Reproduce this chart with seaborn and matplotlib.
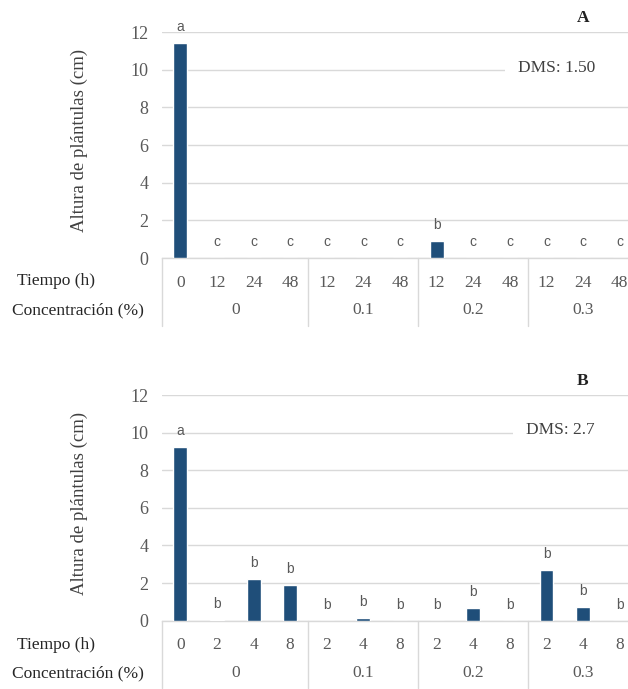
import matplotlib
matplotlib.use("Agg")
import matplotlib.pyplot as plt
import matplotlib.transforms as mtransforms
from matplotlib.lines import Line2D
from matplotlib.patches import Rectangle
import seaborn as sns
import pandas as pd

# ---- Panel A: tiempo de inmersión 0-48 h ----
conc_a = ["0", "0", "0", "0", "0.1", "0.1", "0.1", "0.2", "0.2", "0.2", "0.3", "0.3", "0.3"]
tiempo_a = ["0", "12", "24", "48", "12", "24", "48", "12", "24", "48", "12", "24", "48"]
altura_a = [11.4, 0, 0, 0, 0, 0, 0, 0.9, 0, 0, 0, 0, 0]
letras_a = ["a", "c", "c", "c", "c", "c", "c", "b", "c", "c", "c", "c", "c"]
dms_a = "DMS: 1.50"

# ---- Panel B: tiempo de inmersión 0-8 h ----
conc_b = ["0", "0", "0", "0", "0.1", "0.1", "0.1", "0.2", "0.2", "0.2", "0.3", "0.3", "0.3"]
tiempo_b = ["0", "2", "4", "8", "2", "4", "8", "2", "4", "8", "2", "4", "8"]
altura_b = [9.22, 0.05, 2.2, 1.9, 0, 0.12, 0, 0, 0.66, 0, 2.7, 0.71, 0]
letras_b = ["a", "b", "b", "b", "b", "b", "b", "b", "b", "b", "b", "b", "b"]
dms_b = "DMS: 2.7"

grupos = ["0", "0.1", "0.2", "0.3"]
y_ticks = [0, 2, 4, 6, 8, 10, 12]

BAR = "#1f4e79"
GRID = "#d9d9d9"
TXT = "#404040"
TICK = "#595959"
SERIF = ["Liberation Serif", "DejaVu Serif"]

sns.set_theme(style="white")
plt.rcParams["font.family"] = SERIF

fig = plt.figure(figsize=(6.28, 6.89), dpi=100)


def panel(rect, conc, tiempo, altura, letras, dms, titulo, dms_gap, row_y):
    ax = fig.add_axes(rect)
    df = pd.DataFrame({
        "clave": [f"{c}|{t}|{i}" for i, (c, t) in enumerate(zip(conc, tiempo))],
        "altura": altura,
    })
    orden = list(df["clave"])
    sns.barplot(data=df, x="clave", y="altura", order=orden, color=BAR,
                saturation=1, width=0.38, ax=ax, zorder=3)

    ax.set_ylim(0, 12)
    ax.set_xlim(-0.5, len(altura) - 0.5)
    ax.set_yticks(y_ticks)
    ax.set_yticklabels([str(v) for v in y_ticks], fontsize=13, color=TICK)
    ax.set_xticks(range(len(tiempo)))
    ax.set_xticklabels(tiempo, fontsize=12.5, color=TICK)
    ax.tick_params(axis="both", length=0)
    ax.tick_params(axis="y", pad=10)
    ax.tick_params(axis="x", pad=12)
    ax.set_xlabel("")
    ax.set_ylabel("Altura de plántulas (cm)", fontsize=13.5, color=TXT)
    ax.yaxis.set_label_coords(-0.155, 0.52)

    for s in ["top", "right", "left"]:
        ax.spines[s].set_visible(False)
    ax.spines["bottom"].set_color(GRID)
    ax.spines["bottom"].set_linewidth(1.0)
    ax.yaxis.grid(True, color=GRID, linewidth=1.0, zorder=0)
    ax.set_axisbelow(True)

    # significance letters above each bar
    for i, (v, l) in enumerate(zip(altura, letras)):
        ax.annotate(l, (i, v), xytext=(0, 11.5), textcoords="offset points",
                    ha="center", va="center", fontsize=10, color=TICK,
                    family=["Liberation Sans", "DejaVu Sans"], zorder=4)

    # category table under the axis
    tr = mtransforms.blended_transform_factory(ax.transData, ax.transAxes)
    limites = [-0.5]
    inicio = 0
    for g in grupos:
        n = conc.count(g)
        limites.append(inicio + n - 0.5)
        ax.text(inicio + (n - 1) / 2, -0.23, g, transform=tr, ha="center",
                va="center", fontsize=12.5, color=TICK)
        inicio += n
    for xb in limites:
        ax.add_line(Line2D([xb, xb], [0, -0.30], transform=tr, color=GRID,
                           linewidth=1.0, clip_on=False))

    # DMS box on a white background interrupting the gridline
    ax.add_patch(Rectangle((dms_gap, 0.795), 1.1 - dms_gap, 0.09,
                           transform=ax.transAxes, facecolor="white",
                           edgecolor="none", zorder=2, clip_on=False))
    ax.text(dms_gap + 0.027, 0.843, dms, transform=ax.transAxes, ha="left",
            va="center", fontsize=12.5, color=TXT, zorder=5)
    ax.text(0.884, 1.064, titulo, transform=ax.transAxes, ha="center",
            va="center", fontsize=12.5, fontweight="bold", color="#222222")

    fig.text(17 / 628, row_y[0], "Tiempo (h)", ha="left", va="center",
             fontsize=12.5, color="#262626")
    fig.text(12 / 628, row_y[1], "Concentración (%)", ha="left", va="center",
             fontsize=12.5, color="#262626")
    return ax


panel([0.258, 0.6255, 0.758, 0.328], conc_a, tiempo_a, altura_a, letras_a,
      dms_a, "A", 0.72, (1 - 281 / 689, 1 - 310 / 689))
panel([0.258, 0.0991, 0.758, 0.3276], conc_b, tiempo_b, altura_b, letras_b,
      dms_b, "B", 0.737, (1 - 645 / 689, 1 - 673 / 689))

fig.savefig("out.png", dpi=100, facecolor="white")
